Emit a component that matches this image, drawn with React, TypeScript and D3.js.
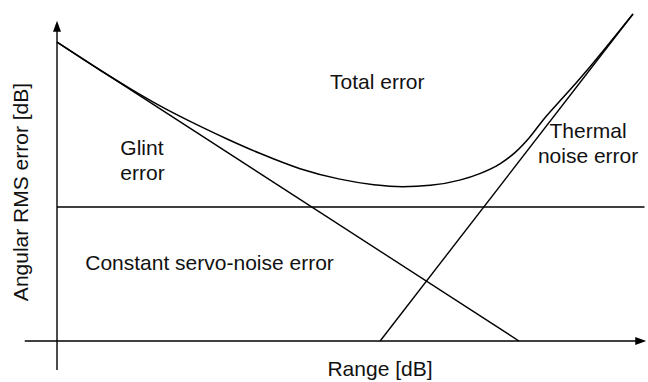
import React, { useEffect, useRef } from 'react';
import * as d3 from 'd3';

// schematic data, in arbitrary units (range 0..100, error 0..100)
const glintError = [
  { x: 0, y: 91.4 },
  { x: 80.2, y: 0 },
];

const thermalError = [
  { x: 56.1, y: 0 },
  { x: 100, y: 100 },
];

const servoError = [
  { x: 0, y: 41 },
  { x: 102, y: 41 },
];

const totalError = [
  { x: 0, y: 91.4 },
  { x: 7.5, y: 82.8 },
  { x: 12.7, y: 77.2 },
  { x: 17.9, y: 71.9 },
  { x: 24.8, y: 65.7 },
  { x: 30.0, y: 61.4 },
  { x: 35.2, y: 57.4 },
  { x: 42.2, y: 52.7 },
  { x: 49.1, y: 49.5 },
  { x: 55.0, y: 47.8 },
  { x: 60.0, y: 47.2 },
  { x: 64.8, y: 47.6 },
  { x: 69.9, y: 49.2 },
  { x: 73.4, y: 51.2 },
  { x: 76.9, y: 54.2 },
  { x: 79.5, y: 57.6 },
  { x: 82.1, y: 62.4 },
  { x: 84.4, y: 67.6 },
  { x: 87.3, y: 73.4 },
  { x: 90.0, y: 78.7 },
  { x: 92.5, y: 83.8 },
  { x: 96.0, y: 91.3 },
  { x: 100, y: 100 },
];

// text labels placed in data units
const labels = [
  { text: 'Total error', x: 47.4, y: 77.0, anchor: 'start' },
  { text: 'Glint', x: 11.0, y: 57.0, anchor: 'start' },
  { text: 'error', x: 11.0, y: 49.1, anchor: 'start' },
  { text: 'Thermal', x: 92.2, y: 62.2, anchor: 'middle' },
  { text: 'noise error', x: 92.2, y: 54.5, anchor: 'middle' },
  { text: 'Constant servo-noise error', x: 4.9, y: 21.7, anchor: 'start' },
];

const xTitle = 'Range [dB]';
const yTitle = 'Angular RMS error [dB]';

const App = () => {
  const svgRef = useRef<SVGSVGElement>(null);
  const width = 648;
  const height = 382;

  useEffect(() => {
    const svg = d3.select(svgRef.current);
    svg.selectAll('*').remove();

    const x = d3.scaleLinear().domain([0, 100]).range([57, 633]);
    const y = d3.scaleLinear().domain([0, 100]).range([341, 14]);

    const font = '"Liberation Sans", Arial, Helvetica, sans-serif';
    const ink = '#000';

    // axes
    const x0 = x(-5.6);
    const x1 = x(102.3);
    const y0 = y(-8.9);
    const y1 = y(97.9);

    svg
      .append('line')
      .attr('x1', x0)
      .attr('x2', x1 - 8)
      .attr('y1', y(0))
      .attr('y2', y(0))
      .attr('stroke', ink)
      .attr('stroke-width', 1.4);
    svg
      .append('path')
      .attr('d', `M${x1},${y(0)} L${x1 - 11},${y(0) - 4} L${x1 - 11},${y(0) + 4} Z`)
      .attr('fill', ink);

    svg
      .append('line')
      .attr('x1', x(0))
      .attr('x2', x(0))
      .attr('y1', y0)
      .attr('y2', y1 + 8)
      .attr('stroke', ink)
      .attr('stroke-width', 1.4);
    svg
      .append('path')
      .attr('d', `M${x(0)},${y1} L${x(0) - 4},${y1 + 11} L${x(0) + 4},${y1 + 11} Z`)
      .attr('fill', ink);

    const straight = d3
      .line<{ x: number; y: number }>()
      .x((d) => x(d.x))
      .y((d) => y(d.y));

    const smooth = d3
      .line<{ x: number; y: number }>()
      .x((d) => x(d.x))
      .y((d) => y(d.y))
      .curve(d3.curveMonotoneX);

    [glintError, thermalError, servoError].forEach((s) => {
      svg
        .append('path')
        .datum(s)
        .attr('fill', 'none')
        .attr('stroke', ink)
        .attr('stroke-width', 1.4)
        .attr('d', straight);
    });

    svg
      .append('path')
      .datum(totalError)
      .attr('fill', 'none')
      .attr('stroke', ink)
      .attr('stroke-width', 1.5)
      .attr('d', smooth);

    // labels
    labels.forEach((l) => {
      svg
        .append('text')
        .attr('x', x(l.x))
        .attr('y', y(l.y))
        .attr('text-anchor', l.anchor)
        .attr('font-family', font)
        .attr('font-size', 21)
        .attr('fill', '#111')
        .text(l.text);
    });

    svg
      .append('text')
      .attr('x', 380)
      .attr('y', 376)
      .attr('text-anchor', 'middle')
      .attr('font-family', font)
      .attr('font-size', 21)
      .attr('fill', '#111')
      .text(xTitle);

    svg
      .append('text')
      .attr('transform', 'translate(28,192) rotate(-90)')
      .attr('text-anchor', 'middle')
      .attr('font-family', font)
      .attr('font-size', 21)
      .attr('fill', '#111')
      .text(yTitle);
  }, []);

  return (
    <svg
      ref={svgRef}
      width={width}
      height={height}
      style={{ position: 'absolute', left: 0, top: 0, background: '#fff' }}
    ></svg>
  );
};

export default App;
